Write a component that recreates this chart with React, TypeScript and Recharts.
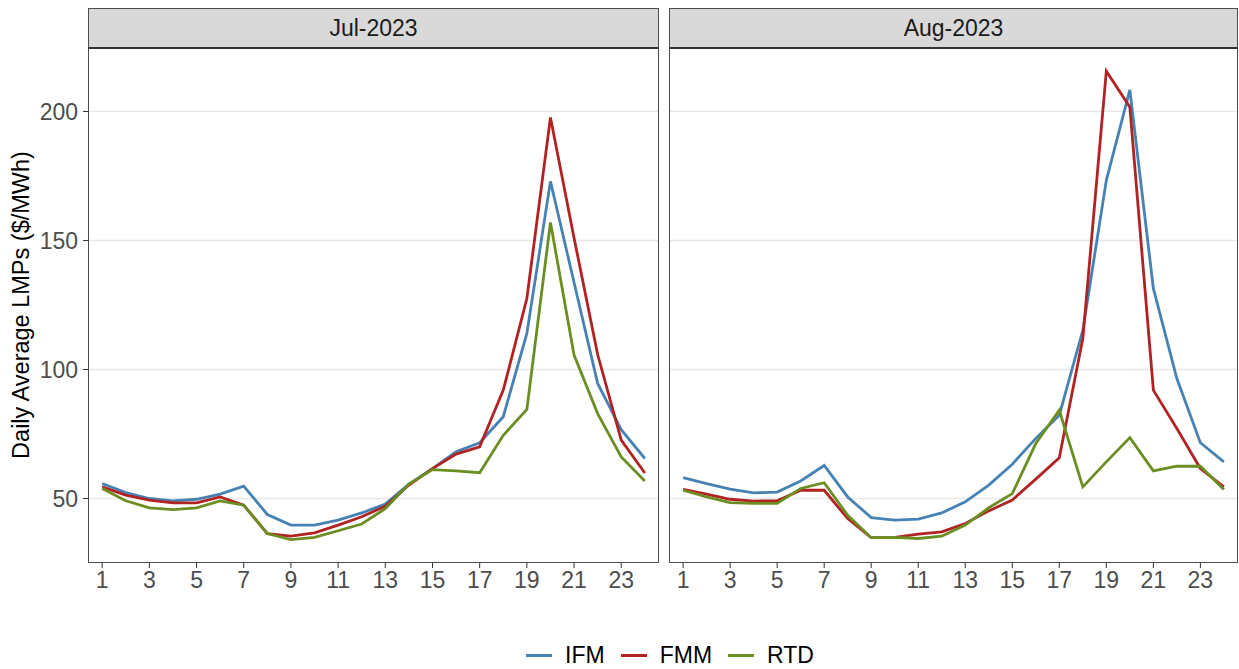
import React from 'react';
import { LineChart, Line, XAxis, YAxis, CartesianGrid } from 'recharts';

// hour of day
const hours = [1, 2, 3, 4, 5, 6, 7, 8, 9, 10, 11, 12, 13, 14, 15, 16, 17, 18, 19, 20, 21, 22, 23, 24];
const hourTicks = [1, 3, 5, 7, 9, 11, 13, 15, 17, 19, 21, 23];
const priceTicks = [50, 100, 150, 200];

// Jul-2023
const julIFM = [55.8, 52.3, 50.0, 49.1, 49.7, 51.7, 54.8, 43.8, 39.7, 39.7, 41.6, 44.4, 47.8, 55.6, 61.6, 68.1, 71.6, 81.7, 114.0, 172.9, 133.7, 94.6, 76.7, 65.5];
const julFMM = [54.5, 51.3, 49.4, 48.3, 48.3, 50.6, 47.4, 36.4, 35.4, 36.7, 39.7, 42.9, 47.0, 55.2, 61.6, 67.2, 70.0, 92.0, 127.5, 197.7, 151.0, 105.8, 72.6, 59.9];
const julRTD = [53.9, 49.1, 46.4, 45.7, 46.4, 49.1, 47.4, 36.4, 34.1, 34.9, 37.5, 40.1, 46.1, 55.6, 61.2, 60.7, 60.0, 74.5, 84.5, 157.0, 105.6, 82.9, 66.1, 56.8];

// Aug-2023
const augIFM = [58.1, 55.8, 53.6, 52.2, 52.5, 56.8, 62.8, 50.6, 42.6, 41.6, 42.0, 44.4, 48.7, 55.2, 63.3, 73.3, 82.3, 115.2, 173.3, 208.4, 131.4, 96.5, 71.6, 64.2];
const augFMM = [53.5, 51.7, 49.7, 49.0, 49.1, 53.2, 53.2, 42.2, 34.8, 34.9, 36.2, 37.1, 40.3, 45.2, 49.4, 57.5, 65.8, 112.0, 215.6, 201.7, 92.0, 77.1, 61.6, 54.5];
const augRTD = [53.2, 50.6, 48.4, 48.1, 48.1, 53.9, 56.1, 43.5, 34.8, 34.9, 34.5, 35.4, 39.7, 46.4, 51.9, 71.3, 84.2, 54.5, 64.2, 73.6, 60.7, 62.5, 62.5, 53.5];

const series = [
    { key: 'IFM', color: '#4682B4' },
    { key: 'FMM', color: '#B22222' },
    { key: 'RTD', color: '#6B8E23' },
];

const buildRows = (ifm: number[], fmm: number[], rtd: number[]) =>
    hours.map((h, i) => ({ hour: h, IFM: ifm[i], FMM: fmm[i], RTD: rtd[i] }));

const julData = buildRows(julIFM, julFMM, julRTD);
const augData = buildRows(augIFM, augFMM, augRTD);

const FONT = '"Liberation Sans", Arial, Helvetica, sans-serif';
const PLOT_TOP = 48;
const PLOT_BOTTOM = 563;
const Y_DOMAIN: [number, number] = [25.0, 224.6];
const X_DOMAIN: [number, number] = [0.4, 24.6];

const tickStyle = { fill: '#4D4D4D', fontSize: 23, fontFamily: FONT };

const Panel = ({ data, showY, width, left, plotLeft, plotWidth, title }: any) => (
    <>
        <div style={{ position: 'absolute', left, top: 0 }}>
            <LineChart
                width={width}
                height={600}
                data={data}
                margin={{ top: PLOT_TOP, right: width - plotLeft - plotWidth, left: 0, bottom: 0 }}
            >
                <CartesianGrid
                    vertical={false}
                    stroke="#E8E8E8"
                    strokeWidth={1.3}
                    horizontalValues={priceTicks}
                />
                <XAxis
                    dataKey="hour"
                    type="number"
                    domain={X_DOMAIN}
                    ticks={hourTicks}
                    interval={0}
                    allowDataOverflow
                    axisLine={false}
                    tickLine={{ stroke: '#333333' }}
                    tickSize={5}
                    tickMargin={4}
                    height={600 - PLOT_BOTTOM}
                    tick={tickStyle}
                />
                <YAxis
                    type="number"
                    domain={Y_DOMAIN}
                    ticks={priceTicks}
                    interval={0}
                    allowDataOverflow
                    hide={!showY}
                    width={plotLeft}
                    axisLine={false}
                    tickLine={{ stroke: '#333333' }}
                    tickSize={5}
                    tickMargin={5}
                    tick={tickStyle}
                />
                {series.map(s => (
                    <Line
                        key={s.key}
                        type="linear"
                        dataKey={s.key}
                        stroke={s.color}
                        strokeWidth={2.8}
                        dot={false}
                        isAnimationActive={false}
                    />
                ))}
            </LineChart>
        </div>
        {/* panel border */}
        <div
            style={{
                position: 'absolute',
                left: left + plotLeft,
                top: PLOT_TOP,
                width: plotWidth,
                height: PLOT_BOTTOM - PLOT_TOP,
                border: '1px solid #4D4D4D',
                boxSizing: 'border-box',
                pointerEvents: 'none',
            }}
        />
        {/* facet strip */}
        <div
            style={{
                position: 'absolute',
                left: left + plotLeft,
                top: 8,
                width: plotWidth,
                height: PLOT_TOP - 8 + 1,
                background: '#D9D9D9',
                border: '1px solid #4D4D4D',
                borderBottom: '2px solid #333333',
                boxSizing: 'border-box',
                display: 'flex',
                alignItems: 'center',
                justifyContent: 'center',
                fontSize: 23,
                color: '#1A1A1A',
                fontFamily: FONT,
            }}
        >
            {title}
        </div>
    </>
);

export default function App() {
    return (
        <div style={{ position: 'absolute', left: 0, top: 0, width: 1239, height: 669, background: '#fff', fontFamily: FONT }}>
            <Panel data={julData} showY width={661} left={0} plotLeft={88} plotWidth={571} title="Jul-2023" />
            <Panel data={augData} showY={false} width={570} left={669} plotLeft={0} plotWidth={569} title="Aug-2023" />

            {/* y axis title */}
            <div
                style={{
                    position: 'absolute',
                    left: 21,
                    top: 305,
                    transform: 'translate(-50%, -50%) rotate(-90deg)',
                    whiteSpace: 'nowrap',
                    fontSize: 23.5,
                    color: '#000',
                }}
            >
                Daily Average LMPs ($/MWh)
            </div>

            {/* legend */}
            <div
                style={{
                    position: 'absolute',
                    left: 95,
                    width: 1150,
                    top: 641,
                    height: 28,
                    display: 'flex',
                    justifyContent: 'center',
                    alignItems: 'center',
                    fontSize: 23,
                    color: '#000',
                }}
            >
                {series.map((s, i) => (
                    <div key={s.key} style={{ display: 'flex', alignItems: 'center', marginRight: i < series.length - 1 ? 16 : 0 }}>
                        <div style={{ width: 26, height: 3, background: s.color, marginRight: 13 }} />
                        <span>{s.key}</span>
                    </div>
                ))}
            </div>
        </div>
    );
}
